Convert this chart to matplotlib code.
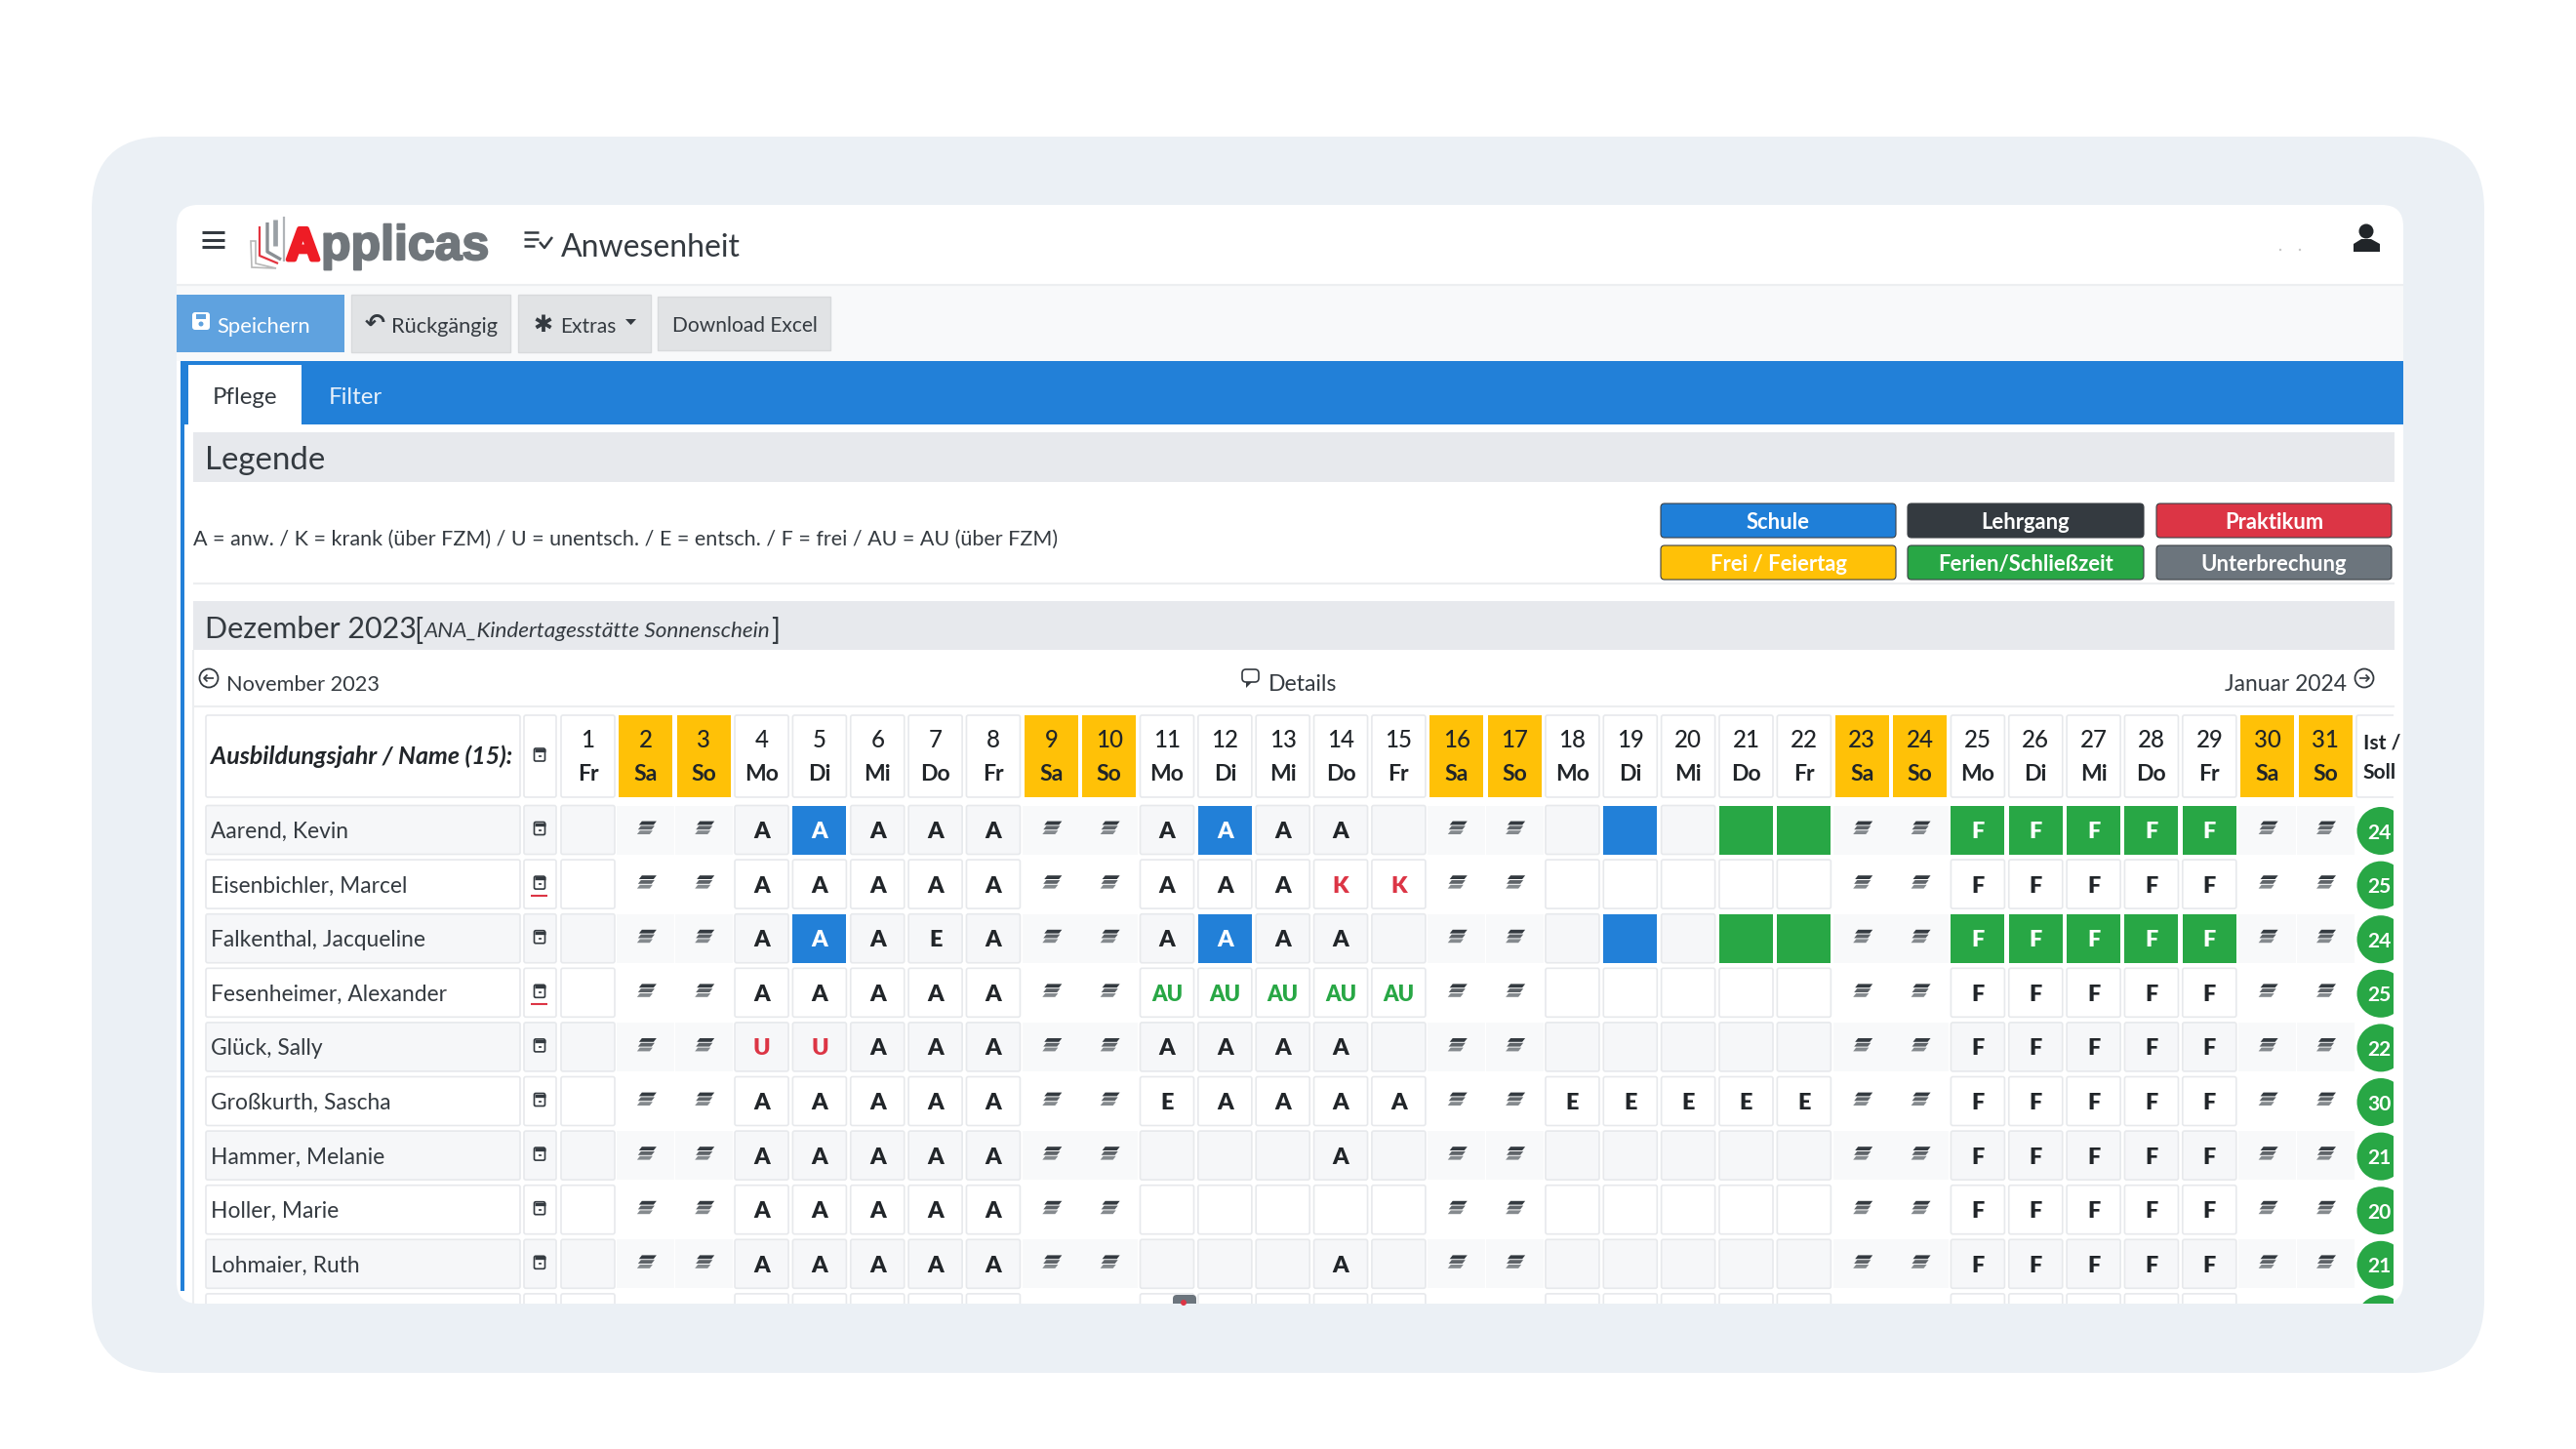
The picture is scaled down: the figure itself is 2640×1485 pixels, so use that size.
import matplotlib
matplotlib.use('Agg')
import matplotlib.pyplot as plt
import matplotlib.patheffects as pe
from matplotlib.patches import FancyBboxPatch, Rectangle, Circle, Polygon

plt.rcParams['font.family'] = ['Lato', 'DejaVu Sans']

names = ['Aarend, Kevin', 'Eisenbichler, Marcel', 'Falkenthal, Jacqueline', 'Fesenheimer, Alexander',
         'Glück, Sally', 'Großkurth, Sascha', 'Hammer, Melanie', 'Holler, Marie', 'Lohmaier, Ruth', '']
ist_values = ['24', '25', '24', '25', '22', '30', '21', '20', '21', '']
red_underline = [1, 3]
day_numbers = list(range(1, 32))
day_labels = ['Fr', 'Sa', 'So', 'Mo', 'Di', 'Mi', 'Do'] * 4 + ['Fr', 'Sa', 'So']
weekend_days = [2, 3, 9, 10, 16, 17, 23, 24, 30, 31]

# w = weekend, . = empty, A* / F* = filled cell, B / G = filled blue / green without letter
marks = [
    '. w w A A* A A A w w A A* A A . w w . B . G G w w F* F* F* F* F* w w',
    '. w w A A A A A w w A A A K K w w . . . . . w w F F F F F w w',
    '. w w A A* A E A w w A A* A A . w w . B . G G w w F* F* F* F* F* w w',
    '. w w A A A A A w w AU AU AU AU AU w w . . . . . w w F F F F F w w',
    '. w w U U A A A w w A A A A . w w . . . . . w w F F F F F w w',
    '. w w A A A A A w w E A A A A w w E E E E E w w F F F F F w w',
    '. w w A A A A A w w . . . A . w w . . . . . w w F F F F F w w',
    '. w w A A A A A w w . . . . . w w . . . . . w w F F F F F w w',
    '. w w A A A A A w w . . . A . w w . . . . . w w F F F F F w w',
    '. w w . . . . . w w . . . . . w w . . . . . w w . . . . . w w',
]

legend_text = 'A = anw. / K = krank (über FZM) / U = unentsch. / E = entsch. / F = frei / AU = AU (über FZM)'
legend_buttons = [['Schule', 'Lehrgang', 'Praktikum'], ['Frei / Feiertag', 'Ferien/Schließzeit', 'Unterbrechung']]
legend_colors = [['#1f7fd8', '#343a40', '#dc3545'], ['#ffc107', '#28a745', '#6c757d']]

BLUE = '#2280d8'
GREEN = '#28a745'
ORANGE = '#ffc107'
RED = '#dc3545'
DARK = '#212529'
BAND = '#e7e9ed'
BORDER = '#e7e9ec'
STRIPE = '#f6f7f9'

fig = plt.figure(figsize=(26.4, 14.85), dpi=100)
ax = fig.add_axes([0, 0, 1, 1])
ax.set_xlim(0, 2640)
ax.set_ylim(1485, 0)
ax.axis('off')


def box(x0, y0, x1, y1, color, r=0, edge='none', lw=0, z=1, clip=None):
    if r > 0:
        p = FancyBboxPatch((x0, y0), x1 - x0, y1 - y0, boxstyle='round,pad=0,rounding_size=%s' % r,
                           fc=color, ec=edge, lw=lw, zorder=z)
    else:
        p = Rectangle((x0, y0), x1 - x0, y1 - y0, fc=color, ec=edge, lw=lw, zorder=z)
    ax.add_patch(p)
    if clip is not None:
        p.set_clip_path(clip)
    return p


def txt(x, y, s, px, color=DARK, ha='left', weight='normal', style='normal', z=5, clip=None, **kw):
    t = ax.text(x, y, s, fontsize=px * 0.72, color=color, ha=ha, va='center_baseline', fontweight=weight,
                fontstyle=style, zorder=z, **kw)
    if clip is not None:
        t.set_clip_path(clip)
    return t


def line(xs, ys, color=DARK, lw=2.0, z=5, clip=None):
    l, = ax.plot(xs, ys, color=color, lw=lw, zorder=z, solid_capstyle='butt')
    if clip is not None:
        l.set_clip_path(clip)


def circle_arrow(cx, cy, direction):
    ax.add_patch(Circle((cx, cy), 9.5, fc='none', ec='#343a40', lw=1.3, zorder=5))
    line([cx - 5, cx + 5], [cy, cy], color='#343a40', lw=1.2)
    tip = cx + 5 * direction
    line([tip - 3.5 * direction, tip, tip - 3.5 * direction], [cy - 3.5, cy, cy + 3.5], color='#343a40', lw=1.2)


# page frame
box(94, 140, 2546, 1407, '#ebf0f5', r=75)
box(181, 210, 2463, 1336, 'white', r=22, z=1)
box(181, 292, 2463, 370, '#f8f9fa', z=1.1)
line([181, 2463], [292, 292], color='#eceef0', lw=1.5)

# top bar
for yy in [238, 246, 253]:
    line([207, 230], [yy, yy], color='#343a40', lw=2.2)
ax.add_patch(Polygon([[257, 247], [262, 247], [262, 270], [283, 275], [258, 274]], fc='none',
                     ec='#b8b8b8', lw=1.2, zorder=5))
line([266, 266, 285], [232, 262, 270], color='#e3343f', lw=1.6)
line([274, 274, 288], [228, 258, 266], color='#8a8f94', lw=2.4)
line([282, 282], [225, 252], color='#9aa0a5', lw=3.4)
line([291, 291], [222, 268], color='#b0b4b8', lw=1.6)
logo_font = ['Liberation Sans Narrow', 'Liberation Sans', 'DejaVu Sans']
ax.text(294, 266, 'A', fontsize=46 * 0.72, color='#ee1c25', fontweight='bold', family=logo_font, va='baseline', zorder=5,
        path_effects=[pe.withStroke(linewidth=3.5, foreground='#ee1c25')])
ax.text(329, 266, 'pplicas', fontsize=50 * 0.72, color='#70767b', fontweight='bold', family=logo_font, va='baseline', zorder=5,
        path_effects=[pe.withStroke(linewidth=1.5, foreground='#70767b')])
for yy, x1 in [(238, 552), (245, 552), (252, 548)]:
    line([537, x1], [yy, yy], color='#343a40', lw=1.8)
line([553, 558, 566], [248, 254, 243], color='#343a40', lw=1.8)
txt(575, 251, 'Anwesenheit', 32, color='#343a40')
ax.add_patch(Circle((2337, 256), 1.2, fc='#c8c8c8', zorder=5))
ax.add_patch(Circle((2357, 256), 1.2, fc='#c8c8c8', zorder=5))
ax.add_patch(Circle((2425, 237), 7.5, fc='#212529', zorder=5))
ax.add_patch(Polygon([[2412, 258], [2412, 250], [2420, 245], [2430, 245], [2439, 250], [2439, 258]], fc='#212529', zorder=5))

# toolbar
box(181, 302, 353, 361, '#5fa2df', z=2)
box(360, 302, 523, 361, '#e1e3e5', edge='#d8dadc', lw=1, z=2)
box(531, 302, 667, 361, '#e1e3e5', edge='#d8dadc', lw=1, z=2)
box(674, 304, 851, 359, '#e1e3e5', edge='#d8dadc', lw=1, z=2)
box(197, 320, 215, 338, 'white', r=3, z=3)
box(201, 322, 211, 327, '#5fa2df', z=4)
ax.add_patch(Circle((206, 332), 2.5, fc='#5fa2df', zorder=4))
txt(222, 333, 'Speichern', 22, color='white')
txt(374, 329, '↶', 25, color='#343a40', family='DejaVu Sans', weight='bold')
txt(401, 333, 'Rückgängig', 21.8, color='#343a40')
txt(557, 330, '✱', 24, color='#343a40', ha='center', family='DejaVu Sans')
txt(574, 333, 'Extras', 21, color='#343a40')
ax.add_patch(Polygon([[641, 327], [652, 327], [646.5, 333]], fc='#343a40', zorder=5))
txt(763, 332, 'Download Excel', 21, color='#343a40', ha='center')

# tabs
box(185, 370, 2463, 435, BLUE, z=2)
box(185, 435, 188.5, 1323, BLUE, z=2)
box(193, 374, 309, 435, 'white', z=3)
line([198, 198], [666, 1336], color='#eceef0', lw=1.5, z=2)
txt(251, 406, 'Pflege', 24, color='#343a40', ha='center')
txt(364, 406, 'Filter', 24, color='#e8f1fb', ha='center')

# legend card
box(198, 443, 2454, 494, BAND, z=2)
txt(210, 469, 'Legende', 33, color='#343a40')
line([198, 2454], [598, 598], color='#eceef0', lw=1.5, z=2)
txt(198, 551, legend_text, 21.5, color='#343a40')
btn_x = [(1702, 1943), (1955, 2197), (2210, 2451)]
btn_y = [(516, 551), (559, 594)]
for row in range(2):
    for col in range(3):
        x0, x1 = btn_x[col]
        y0, y1 = btn_y[row]
        box(x0, y0, x1, y1, legend_colors[row][col], r=4, edge='#3b4045', lw=0.8, z=3)
        txt((x0 + x1) / 2, (y0 + y1) / 2, legend_buttons[row][col], 22, color='white', ha='center', weight='bold')

# month band
box(198, 616, 2454, 666, BAND, z=2)
txt(210, 642, 'Dezember 2023', 30.5, color='#343a40')
txt(424, 644, '[', 30, color='#343a40')
txt(435, 645, 'ANA_Kindertagesstätte Sonnenschein', 22.5, color='#343a40', style='italic')
txt(790, 644, ']', 30, color='#343a40')
circle_arrow(214, 695, -1)
txt(232, 700, 'November 2023', 21.8, color='#343a40')
box(1273, 686, 1290, 699, 'none', r=4, edge='#343a40', lw=1.2, z=5)
ax.add_patch(Polygon([[1277, 699], [1283, 699], [1277, 705]], fc='#343a40', zorder=5))
txt(1300, 700, 'Details', 23, color='#343a40')
txt(2405, 700, 'Januar 2024', 22.8, color='#343a40', ha='right')
circle_arrow(2423, 695, 1)
line([198, 2454], [724, 724], color='#eceef0', lw=1.5, z=2)

# table, cut off at the lower and right card edge
clip = Rectangle((190, 725), 2263, 611, transform=ax.transData)
day_x0 = 602.5
day_step = 59.35
cell_w = 55
head_y0, head_y1 = 733, 817
row_y0 = 850.5
row_step = 55.6
row_h = 50


def calendar_icon(cx, cy):
    box(cx - 5.5, cy - 6, cx + 5.5, cy + 7, 'white', r=1.5, edge='#343a40', lw=1.2, z=4, clip=clip)
    line([cx - 5.5, cx + 5.5], [cy - 4, cy - 4], color='#343a40', lw=2.4, clip=clip)
    line([cx - 1.5, cx + 1.5], [cy + 2, cy + 2], color='#343a40', lw=1.2, clip=clip)


def weekend_icon(cx, cy):
    for i, (w, c) in enumerate([(15, '#343a40'), (14, '#5f6469'), (13, '#858a8e')]):
        y = cy - 5 + i * 4.8
        left = cx - w / 2 - (i - 1) * 1.5
        p = Polygon([[left + 2, y - 1.9], [left + w + 2, y - 1.9], [left + w - 1, y + 1.9], [left - 1, y + 1.9]], fc=c, ec='none', zorder=5)
        ax.add_patch(p)
        p.set_clip_path(clip)


box(211, head_y0, 533, head_y1, 'white', r=2, edge=BORDER, lw=1.2, z=2, clip=clip)
txt(216, 773, 'Ausbildungsjahr / Name (15):', 25, weight='bold', style='italic', clip=clip)
box(537, head_y0, 570, head_y1, 'white', r=2, edge=BORDER, lw=1.2, z=2, clip=clip)
calendar_icon(553, 773)
for i, d in enumerate(day_numbers):
    cx = day_x0 + i * day_step
    if d in weekend_days:
        box(cx - cell_w / 2, head_y0, cx + cell_w / 2, head_y1, ORANGE, z=2, clip=clip)
    else:
        box(cx - cell_w / 2, head_y0, cx + cell_w / 2, head_y1, 'white', r=2, edge=BORDER, lw=1.2, z=2, clip=clip)
    txt(cx, 756, str(d), 24, ha='center', weight='medium', clip=clip)
    txt(cx, 792, day_labels[i], 23, ha='center', weight='bold', clip=clip)
box(2415, head_y0, 2470, head_y1, 'white', r=2, edge=BORDER, lw=1.2, z=2, clip=clip)
txt(2422, 759, 'Ist /', 21, weight='bold', clip=clip)
txt(2422, 790, 'Soll', 21, weight='bold', clip=clip)

for r, name in enumerate(names):
    cy = row_y0 + r * row_step
    y0, y1 = cy - row_h / 2, cy + row_h / 2
    bg = STRIPE if r % 2 == 0 else 'white'
    box(211, y0, 533, y1, bg, r=2, edge=BORDER, lw=1.2, z=2, clip=clip)
    box(537, y0, 570, y1, bg, r=2, edge=BORDER, lw=1.2, z=2, clip=clip)
    if name:
        txt(216, cy, name, 22.8, color='#343a40', clip=clip)
        calendar_icon(553, cy - 2)
    if r in red_underline:
        line([544, 561], [cy + 12, cy + 12], color=RED, lw=1.5, clip=clip)
    for i, m in enumerate(marks[r].split()):
        cx = day_x0 + i * day_step
        x0, x1 = cx - cell_w / 2, cx + cell_w / 2
        if m == 'w':
            if r % 2 == 0:
                box(x0 - 2, y0, x1 + 2, y1, '#f8f9fa', z=2, clip=clip)
            if name:
                weekend_icon(cx, cy - 2)
        elif m in ('A*', 'B'):
            box(x0, y0, x1, y1, BLUE, z=2, clip=clip)
            if m == 'A*':
                txt(cx, cy, 'A', 23.5, color='white', ha='center', weight='heavy', clip=clip)
        elif m in ('F*', 'G'):
            box(x0, y0, x1, y1, GREEN, z=2, clip=clip)
            if m == 'F*':
                txt(cx, cy, 'F', 23.5, color='white', ha='center', weight='heavy', clip=clip)
        else:
            box(x0, y0, x1, y1, bg, r=2, edge=BORDER, lw=1.2, z=2, clip=clip)
            if m != '.':
                c = RED if m in ('K', 'U') else (GREEN if m == 'AU' else DARK)
                txt(cx, cy, m, 23.5 if m != 'AU' else 22, color=c, ha='center', weight='heavy', clip=clip)
    c = Circle((2440, cy + 1), 24.5, fc=GREEN, ec='none', zorder=3)
    ax.add_patch(c)
    c.set_clip_path(clip)
    if ist_values[r]:
        txt(2438, cy + 1, ist_values[r], 21, color='white', ha='center', weight='bold', clip=clip)

# grey marker peeking out in the hidden row
box(1202, 1327, 1226, 1340, '#6c757d', r=4, z=4, clip=clip)
ax.add_patch(Circle((1213, 1335), 3, fc=RED, zorder=5, clip_path=clip))

fig.savefig('out.png', dpi=100, facecolor='white')
